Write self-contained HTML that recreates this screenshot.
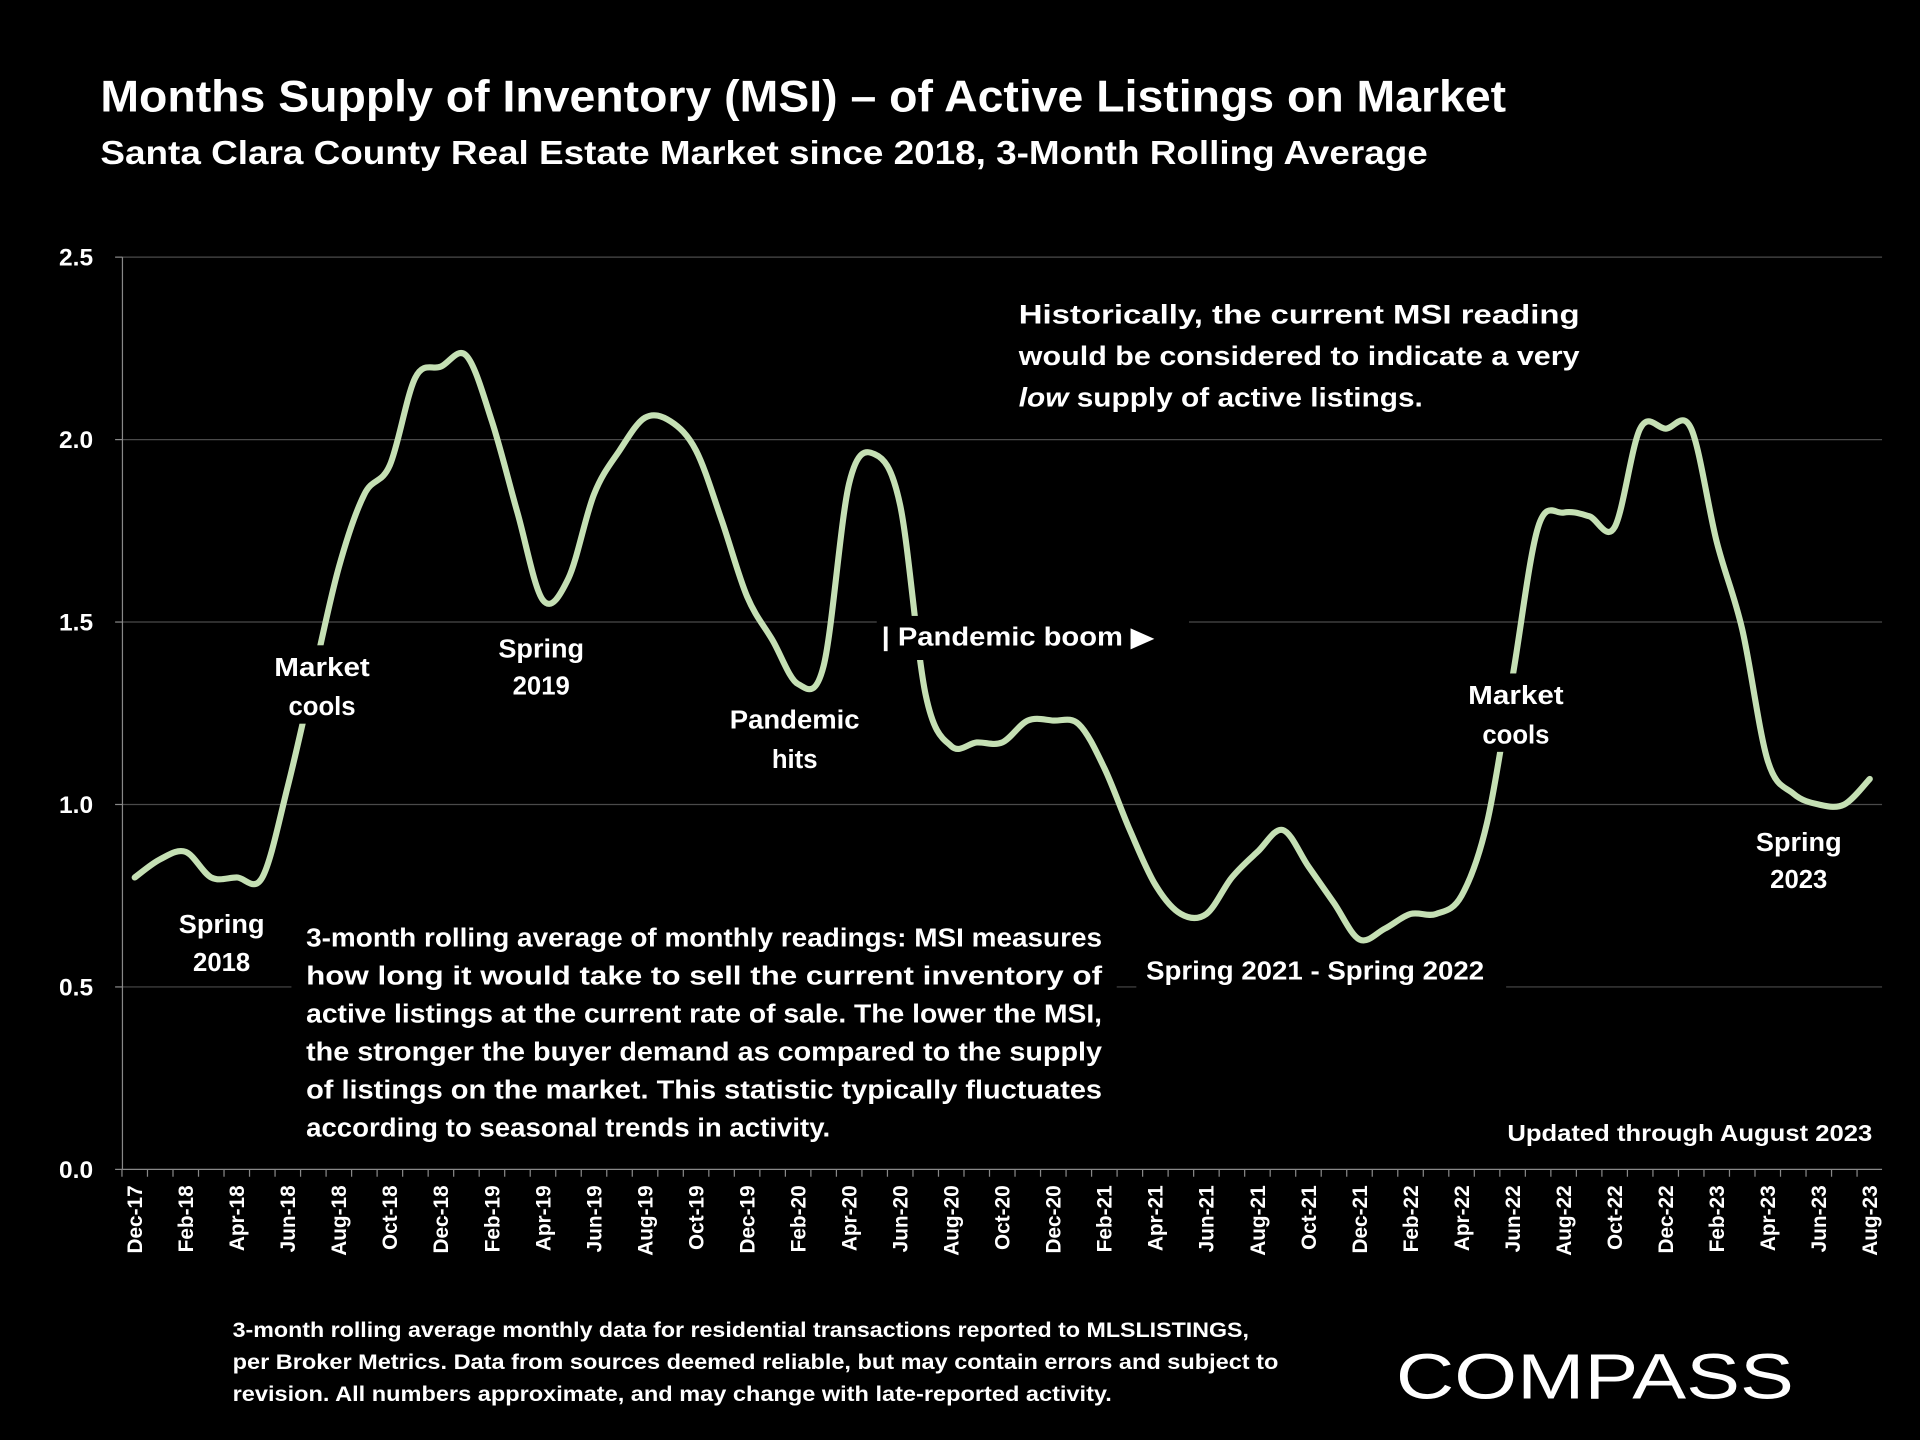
<!DOCTYPE html>
<html><head><meta charset="utf-8"><style>
html,body{margin:0;padding:0;background:#000;}
svg{display:block;}
text{font-family:"Liberation Sans",sans-serif;fill:#fff;font-weight:bold;}
</style></head><body>
<svg id="chart" width="1920" height="1440" viewBox="0 0 1568 1176" xmlns="http://www.w3.org/2000/svg">
<rect width="1568" height="1176" fill="#000"/>
<text x="82" y="91" font-size="36" textLength="1148" lengthAdjust="spacingAndGlyphs">Months Supply of Inventory (MSI) – of Active Listings on Market</text>
<text x="82" y="134" font-size="27" textLength="1084" lengthAdjust="spacingAndGlyphs">Santa Clara County Real Estate Market since 2018, 3-Month Rolling Average</text>
<g id="grid"></g>
<g id="yticks"></g>
<g id="xticks"></g>
<path id="line" fill="none" stroke="#c5e0b4" stroke-width="5" stroke-linejoin="round" stroke-linecap="round"/>
<g id="annots">
  <rect x="215" y="527" width="96" height="64" fill="#000"/>
  <text x="263" y="552" font-size="21" text-anchor="middle" textLength="78" lengthAdjust="spacingAndGlyphs">Market</text>
  <text x="263" y="584" font-size="21" text-anchor="middle">cools</text>
  <rect x="137" y="737" width="90" height="64" fill="#000"/>
  <text x="181" y="762" font-size="21" text-anchor="middle" textLength="70" lengthAdjust="spacingAndGlyphs">Spring</text>
  <text x="181" y="793" font-size="21" text-anchor="middle">2018</text>
  <rect x="400" y="512" width="86" height="64" fill="#000"/>
  <text x="442" y="537" font-size="21" text-anchor="middle" textLength="70" lengthAdjust="spacingAndGlyphs">Spring</text>
  <text x="442" y="567" font-size="21" text-anchor="middle">2019</text>
  <rect x="590" y="570" width="120" height="64" fill="#000"/>
  <text x="649" y="595" font-size="21" text-anchor="middle" textLength="106" lengthAdjust="spacingAndGlyphs">Pandemic</text>
  <text x="649" y="627" font-size="21" text-anchor="middle">hits</text>
  <rect x="716" y="503" width="255" height="36" fill="#000"/>
  <text x="720" y="527" font-size="21" textLength="222" lengthAdjust="spacingAndGlyphs">| Pandemic boom ▶</text>
  <rect x="1190" y="550" width="96" height="64" fill="#000"/>
  <text x="1238" y="575" font-size="21" text-anchor="middle" textLength="78" lengthAdjust="spacingAndGlyphs">Market</text>
  <text x="1238" y="607" font-size="21" text-anchor="middle">cools</text>
  <rect x="928" y="776" width="302" height="36" fill="#000"/>
  <text x="936" y="800" font-size="21" textLength="276" lengthAdjust="spacingAndGlyphs">Spring 2021 - Spring 2022</text>
  <rect x="1425" y="670" width="90" height="64" fill="#000"/>
  <text x="1469" y="695" font-size="21" text-anchor="middle" textLength="70" lengthAdjust="spacingAndGlyphs">Spring</text>
  <text x="1469" y="725" font-size="21" text-anchor="middle">2023</text>
  <rect x="238" y="745" width="674" height="196" fill="#000"/>
  <g font-size="21">
    <text x="250" y="773" textLength="650" lengthAdjust="spacingAndGlyphs">3-month rolling average of monthly readings: MSI measures</text>
    <text x="250" y="804" textLength="650" lengthAdjust="spacingAndGlyphs">how long it would take to sell the current inventory of</text>
    <text x="250" y="835" textLength="650" lengthAdjust="spacingAndGlyphs">active listings at the current rate of sale. The lower the MSI,</text>
    <text x="250" y="866" textLength="650" lengthAdjust="spacingAndGlyphs">the stronger the buyer demand as compared to the supply</text>
    <text x="250" y="897" textLength="650" lengthAdjust="spacingAndGlyphs">of listings on the market. This statistic typically fluctuates</text>
    <text x="250" y="928" textLength="428" lengthAdjust="spacingAndGlyphs">according to seasonal trends in activity.</text>
  </g>
  <g font-size="22">
    <text x="832" y="264" textLength="458" lengthAdjust="spacingAndGlyphs">Historically, the current MSI reading</text>
    <text x="832" y="298" textLength="458" lengthAdjust="spacingAndGlyphs">would be considered to indicate a very</text>
    <text x="832" y="332" textLength="330" lengthAdjust="spacingAndGlyphs"><tspan font-style="italic">low</tspan> supply of active listings.</text>
  </g>
  <rect x="1222" y="908" width="312" height="32" fill="#000"/>
  <text x="1529" y="932" font-size="19" text-anchor="end" textLength="298" lengthAdjust="spacingAndGlyphs">Updated through August 2023</text>
</g>
<g font-size="17">
  <text x="190" y="1092" textLength="830" lengthAdjust="spacingAndGlyphs">3-month rolling average monthly data for residential transactions reported to MLSLISTINGS,</text>
  <text x="190" y="1118" textLength="854" lengthAdjust="spacingAndGlyphs">per Broker Metrics. Data from sources deemed reliable, but may contain errors and subject to</text>
  <text x="190" y="1144" textLength="718" lengthAdjust="spacingAndGlyphs">revision. All numbers approximate, and may change with late-reported activity.</text>
</g>
<text x="1140" y="1142" font-size="52" font-weight="normal" style="font-weight:normal" textLength="325" lengthAdjust="spacingAndGlyphs">COMPASS</text>
</svg>
<script>
const months = ["Dec-17","Jan-18","Feb-18","Mar-18","Apr-18","May-18","Jun-18","Jul-18","Aug-18","Sep-18","Oct-18","Nov-18","Dec-18","Jan-19","Feb-19","Mar-19","Apr-19","May-19","Jun-19","Jul-19","Aug-19","Sep-19","Oct-19","Nov-19","Dec-19","Jan-20","Feb-20","Mar-20","Apr-20","May-20","Jun-20","Jul-20","Aug-20","Sep-20","Oct-20","Nov-20","Dec-20","Jan-21","Feb-21","Mar-21","Apr-21","May-21","Jun-21","Jul-21","Aug-21","Sep-21","Oct-21","Nov-21","Dec-21","Jan-22","Feb-22","Mar-22","Apr-22","May-22","Jun-22","Jul-22","Aug-22","Sep-22","Oct-22","Nov-22","Dec-22","Jan-23","Feb-23","Mar-23","Apr-23","May-23","Jun-23","Jul-23","Aug-23"];
const msiValues = [0.80,0.85,0.87,0.80,0.80,0.80,1.05,1.35,1.65,1.85,1.93,2.17,2.20,2.23,2.05,1.80,1.56,1.62,1.85,1.97,2.06,2.05,1.97,1.78,1.57,1.45,1.33,1.38,1.88,1.96,1.82,1.30,1.16,1.17,1.17,1.23,1.23,1.22,1.10,0.93,0.78,0.70,0.70,0.80,0.87,0.93,0.83,0.73,0.63,0.66,0.70,0.70,0.75,0.95,1.35,1.76,1.80,1.79,1.76,2.03,2.03,2.03,1.72,1.48,1.12,1.03,1.00,1.00,1.07];
const yTicks = ["0.0","0.5","1.0","1.5","2.0","2.5"];
const xTickLabels = ["Dec-17","Feb-18","Apr-18","Jun-18","Aug-18","Oct-18","Dec-18","Feb-19","Apr-19","Jun-19","Aug-19","Oct-19","Dec-19","Feb-20","Apr-20","Jun-20","Aug-20","Oct-20","Dec-20","Feb-21","Apr-21","Jun-21","Aug-21","Oct-21","Dec-21","Feb-22","Apr-22","Jun-22","Aug-22","Oct-22","Dec-22","Feb-23","Apr-23","Jun-23","Aug-23"];

const NS="http://www.w3.org/2000/svg";
const X0=110, X1=1527, Y0=955, Y1=210, AXL=100, AXR=1537;
const xs=i=>X0+(X1-X0)*i/(months.length-1);
const ys=v=>Y0-(Y0-Y1)*v/2.5;
function mk(tag,attrs,parent){const e=document.createElementNS(NS,tag);for(const k in attrs)e.setAttribute(k,attrs[k]);parent.appendChild(e);return e;}
const grid=document.getElementById('grid'), yg=document.getElementById('yticks'), xg=document.getElementById('xticks');
yTicks.forEach(t=>{
  const v=parseFloat(t), y=ys(v);
  if(v>0){const l=mk('line',{x1:AXL,x2:AXR,y1:y,y2:y,stroke:'#4a4a4a','stroke-width':1},grid);
  
  }
  mk('line',{x1:AXL-6,x2:AXL,y1:y,y2:y,stroke:'#888','stroke-width':1},yg);
  const tx=mk('text',{x:76,y:y+7,'font-size':20,'text-anchor':'end'},yg);tx.textContent=t;
  
  
});
mk('line',{x1:AXL,x2:AXL,y1:Y1,y2:Y0,stroke:'#888','stroke-width':1},yg);
mk('line',{x1:AXL,x2:AXR,y1:Y0,y2:Y0,stroke:'#888','stroke-width':1},xg);
months.forEach((m,i)=>{mk('line',{x1:xs(i)-10.4,x2:xs(i)-10.4,y1:Y0,y2:Y0+6,stroke:'#888','stroke-width':1},xg);});
xTickLabels.forEach(lab=>{
  const i=months.indexOf(lab), x=xs(i);
  const t=mk('text',{transform:`translate(${x+6},968) rotate(-90)`,'font-size':17,'text-anchor':'end'},xg);
  t.textContent=lab;
  
  
});
const pts=msiValues.map((v,i)=>[xs(i),ys(v)]);
let d=`M${pts[0][0]},${pts[0][1]}`;
for(let i=0;i<pts.length-1;i++){
  const p0=pts[Math.max(0,i-1)],p1=pts[i],p2=pts[i+1],p3=pts[Math.min(pts.length-1,i+2)];
  const c1=[p1[0]+(p2[0]-p0[0])/6,p1[1]+(p2[1]-p0[1])/6], c2=[p2[0]-(p3[0]-p1[0])/6,p2[1]-(p3[1]-p1[1])/6];
  d+=` C${c1[0]},${c1[1]} ${c2[0]},${c2[1]} ${p2[0]},${p2[1]}`;
}
document.getElementById('line').setAttribute('d',d);
</script>
</body></html>
